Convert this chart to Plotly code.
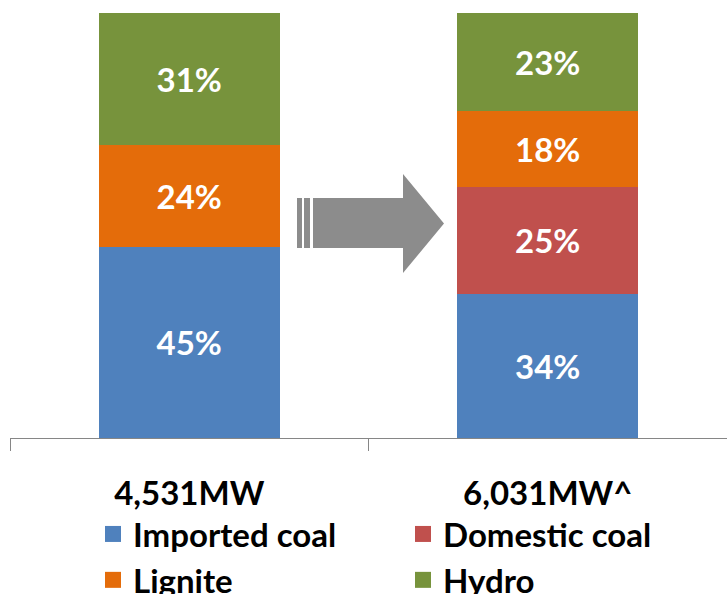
import plotly.graph_objects as go

# Installed capacity mix (% share) for the two cases
categories = ["4,531MW", "6,031MW^"]
imported_coal = [45, 34]
domestic_coal = [None, 25]
lignite = [24, 18]
hydro = [31, 23]

series = [
    ("Imported coal", imported_coal, "#4F81BD"),
    ("Domestic coal", domestic_coal, "#C0504D"),
    ("Lignite", lignite, "#E46C0A"),
    ("Hydro", hydro, "#77933C"),
]

W, H = 727, 594
ML, MR, MT, MB = 10, 0, 13, 156
FONT = "Lato"

fig = go.Figure()
for name, vals, color in series:
    fig.add_trace(go.Bar(
        name=name,
        x=categories,
        y=vals,
        marker=dict(color=color, line=dict(width=0)),
        width=0.505,
        texttemplate="%{y:.0f}%",
        textposition="inside",
        insidetextanchor="middle",
        textangle=0,
        textfont=dict(family=FONT, size=33, color="white", weight="bold"),
        hoverinfo="skip",
        showlegend=False,
    ))

# legend entries with large square swatches
for name, vals, color in series:
    fig.add_trace(go.Scatter(
        name=name, x=[None], y=[None], mode="markers",
        marker=dict(symbol="square", size=21, color=color),
        hoverinfo="skip", showlegend=True,
    ))

# pixel -> paper helpers for the decorative arrow
pw, ph = W - ML - MR, H - MT - MB
def px(x):
    return (x - ML) / pw
def py(y):
    return (H - MB - y) / ph

arrow = [
    (313, 198), (403, 198), (403, 174), (444, 223.5),
    (403, 273), (403, 248), (313, 248),
]
path = "M " + " L ".join(f"{px(a):.5f},{py(b):.5f}" for a, b in arrow) + " Z"
shapes = [dict(type="path", xref="paper", yref="paper", path=path,
               fillcolor="#8C8C8C", line=dict(width=0))]
for x0, x1 in [(297, 302), (304, 310)]:
    shapes.append(dict(type="rect", xref="paper", yref="paper",
                       x0=px(x0), x1=px(x1), y0=py(248), y1=py(198),
                       fillcolor="#8C8C8C", line=dict(width=0)))

fig.update_layout(
    width=W, height=H,
    margin=dict(l=ML, r=MR, t=MT, b=MB, pad=0, autoexpand=False),
    barmode="stack",
    plot_bgcolor="white", paper_bgcolor="white",
    shapes=shapes,
    showlegend=True,
    legend=dict(
        orientation="h",
        traceorder="normal",
        xref="container", yref="container",
        x=93 / W, xanchor="left",
        y=1 - 506 / H, yanchor="top",
        entrywidth=265, entrywidthmode="pixels",
        font=dict(family=FONT, size=33, color="black", weight="bold"),
        bgcolor="rgba(0,0,0,0)",
        itemclick=False,
    ),
    xaxis=dict(
        range=[-0.5, 1.5],
        showline=True, linecolor="#868686", linewidth=1,
        ticks="outside", tickson="boundaries", ticklen=12,
        tickcolor="#868686", tickwidth=1,
        ticklabelstandoff=26,
        tickfont=dict(family=FONT, size=33, color="black", weight="bold"),
        showgrid=False, zeroline=False, fixedrange=True,
    ),
    yaxis=dict(
        range=[0, 100], visible=False, showgrid=False,
        zeroline=False, fixedrange=True,
    ),
)

fig.write_html("out.html")
